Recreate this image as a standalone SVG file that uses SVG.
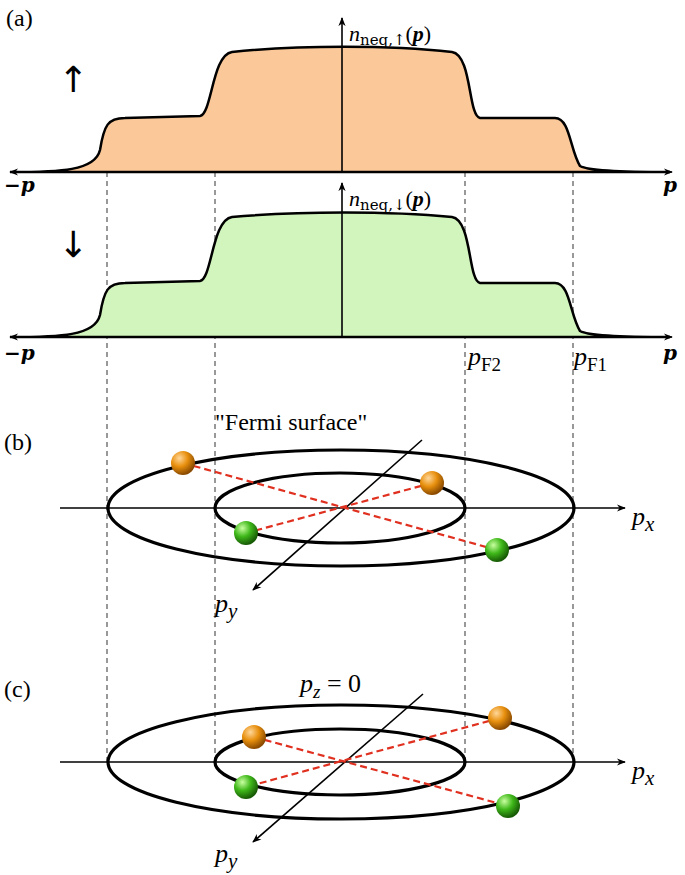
<svg xmlns="http://www.w3.org/2000/svg" width="685" height="875" viewBox="0 0 685 875">
<defs>
<marker id="ar" viewBox="0 0 10 10" refX="9" refY="5" markerWidth="9" markerHeight="9" orient="auto-start-reverse" markerUnits="userSpaceOnUse"><path d="M0,1 L10,5 L0,9 L3,5 z" fill="#000"/></marker>
<radialGradient id="og" cx="0.35" cy="0.3" r="0.7"><stop offset="0" stop-color="#ffd79a"/><stop offset="0.5" stop-color="#e8900e"/><stop offset="1" stop-color="#8a4a00"/></radialGradient>
<radialGradient id="gg" cx="0.35" cy="0.3" r="0.7"><stop offset="0" stop-color="#c8ffa0"/><stop offset="0.5" stop-color="#3fb81a"/><stop offset="1" stop-color="#175a05"/></radialGradient>
</defs>
<style>
.ax{stroke:#000;stroke-width:1.6;fill:none}
.dash{stroke:#555;stroke-width:1.2;stroke-dasharray:5,4;fill:none}
.el{stroke:#000;stroke-width:3.2;fill:none}
.red{stroke:#e03020;stroke-width:2.2;stroke-dasharray:7,4;fill:none}
.t{font-family:"Liberation Serif",serif;font-size:24px}
.m{font-family:"Liberation Serif",serif;font-style:italic;font-size:26px}
.b{font-family:"DejaVu Serif",serif;font-style:italic;font-weight:bold;font-size:20px}
.arw{font-family:"DejaVu Sans",sans-serif;font-size:36px;fill:#000}
.lab{font-family:"Liberation Serif",serif;font-size:22px}
.sub{font-family:"DejaVu Serif",serif;font-size:15px}
</style>
<g id="dashes">
<line class="dash" x1="107" y1="172" x2="107" y2="762"/>
<line class="dash" x1="215" y1="172" x2="215" y2="762"/>
<line class="dash" x1="465" y1="172" x2="465" y2="762"/>
<line class="dash" x1="573" y1="172" x2="573" y2="762"/>
</g>
<g id="panel-a-up">
<path d="M10,172 C60,172 95,171 100,150 C104,125 108,118 125,118 L200,116 C212,114 212,55 232,52 C300,45 390,45 452,52 C472,55 468,116 480,118 L555,118 C570,118 570,150 580,166 C590,172 640,172 670,172 Z" fill="#fbc999" stroke="#000" stroke-width="2.5"/>
<line class="ax" x1="10" y1="172" x2="672" y2="172" marker-start="url(#ar)" marker-end="url(#ar)"/>
<line class="ax" x1="342" y1="172" x2="342" y2="18" marker-end="url(#ar)"/>
<text class="t" x="6" y="26">(a)</text>
<text class="arw" x="58" y="92">↑</text>
<text class="lab" x="349" y="41"><tspan font-style="italic">n</tspan><tspan class="sub" dy="4">neq,↑</tspan><tspan dy="-4">(</tspan><tspan font-style="italic" font-weight="bold">p</tspan>)</text>
<text class="b" x="4" y="192">−p</text>
<text class="b" x="663" y="192">p</text>
</g>
<g id="panel-a-down">
<path d="M10,337 C60,337 95,336 100,315 C104,290 108,283 125,283 L200,281 C212,279 212,220 232,217 C300,211 390,211 452,217 C472,220 468,281 480,283 L555,283 C570,283 570,315 580,331 C590,337 640,337 670,337 Z" fill="#d2f4bd" stroke="#000" stroke-width="2.5"/>
<line class="ax" x1="10" y1="337" x2="672" y2="337" marker-start="url(#ar)" marker-end="url(#ar)"/>
<line class="ax" x1="342" y1="337" x2="342" y2="183" marker-end="url(#ar)"/>
<text class="arw" x="58" y="257">↓</text>
<text class="lab" x="349" y="206"><tspan font-style="italic">n</tspan><tspan class="sub" dy="4">neq,↓</tspan><tspan dy="-4">(</tspan><tspan font-style="italic" font-weight="bold">p</tspan>)</text>
<text class="b" x="4" y="360">−p</text>
<text class="b" x="663" y="360">p</text>
<text class="m" x="468" y="365">p<tspan font-style="normal" font-size="19" dy="6">F2</tspan></text>
<text class="m" x="574" y="365">p<tspan font-style="normal" font-size="19" dy="6">F1</tspan></text>
</g>
<g id="panel-b">
<text class="t" x="4" y="450">(b)</text>
<ellipse class="el" cx="341" cy="508" rx="233" ry="58"/>
<ellipse class="el" cx="340" cy="508" rx="125" ry="35"/>
<line class="ax" x1="60" y1="508" x2="625" y2="508" marker-end="url(#ar)"/>
<line class="ax" x1="422" y1="440" x2="253" y2="590" marker-end="url(#ar)"/>
<line class="red" x1="183" y1="463" x2="497" y2="550"/>
<line class="red" x1="432" y1="483" x2="246" y2="533"/>
<circle cx="183" cy="463" r="12" fill="url(#og)"/>
<circle cx="432" cy="483" r="12" fill="url(#og)"/>
<circle cx="246" cy="533" r="12" fill="url(#gg)"/>
<circle cx="497" cy="550" r="12" fill="url(#gg)"/>
<text class="t" x="215" y="430" font-size="22">"Fermi surface"</text>
<text class="m" x="632" y="525" font-size="30">p<tspan font-size="21" dy="6">x</tspan></text>
<text class="m" x="215" y="612" font-size="30">p<tspan font-size="21" dy="6">y</tspan></text>
</g>
<g id="panel-c">
<text class="t" x="4" y="697">(c)</text>
<ellipse class="el" cx="341" cy="762" rx="233" ry="57"/>
<ellipse class="el" cx="340" cy="762" rx="125" ry="33"/>
<line class="ax" x1="60" y1="762" x2="625" y2="762" marker-end="url(#ar)"/>
<line class="ax" x1="423" y1="694" x2="253" y2="842" marker-end="url(#ar)"/>
<line class="red" x1="254" y1="737" x2="508" y2="806"/>
<line class="red" x1="500" y1="718" x2="246" y2="787"/>
<circle cx="254" cy="737" r="12" fill="url(#og)"/>
<circle cx="500" cy="718" r="12" fill="url(#og)"/>
<circle cx="246" cy="787" r="12" fill="url(#gg)"/>
<circle cx="508" cy="806" r="12" fill="url(#gg)"/>
<text class="m" x="300" y="692" font-size="28">p<tspan font-size="19" dy="6">z</tspan><tspan font-style="normal" dy="-6"> = 0</tspan></text>
<text class="m" x="632" y="779" font-size="30">p<tspan font-size="21" dy="6">x</tspan></text>
<text class="m" x="215" y="862" font-size="30">p<tspan font-size="21" dy="6">y</tspan></text>
</g>
</svg>
